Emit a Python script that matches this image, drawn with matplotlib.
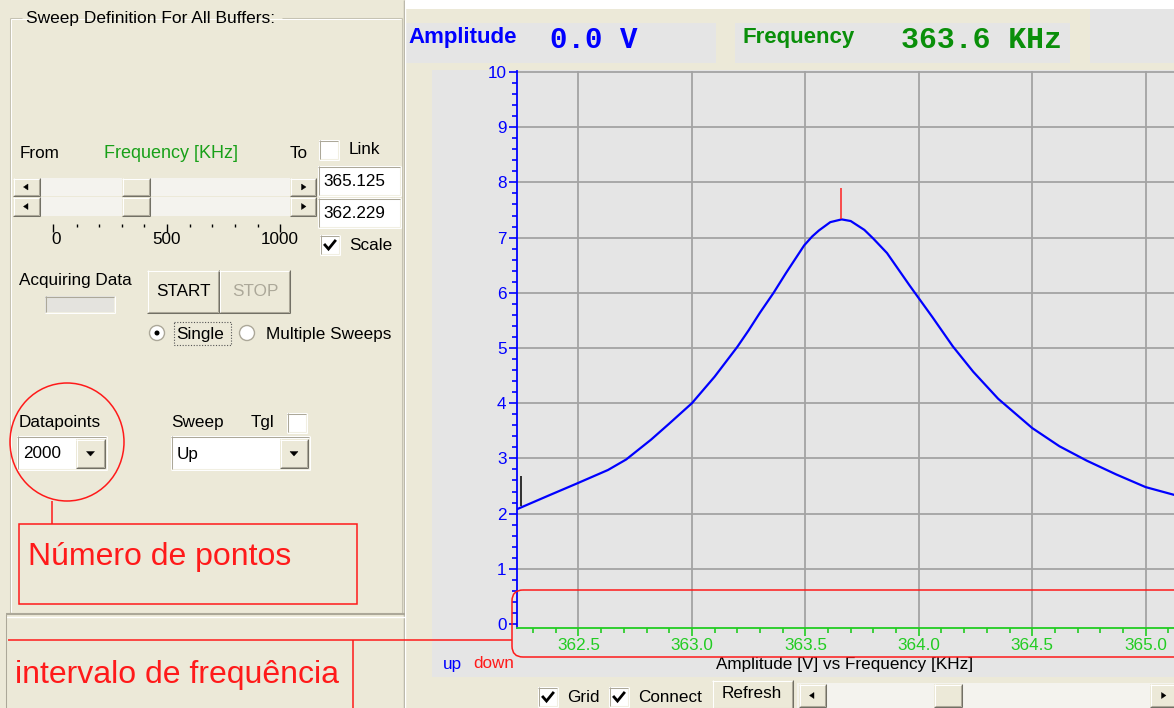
import matplotlib
matplotlib.use("Agg")
import matplotlib.pyplot as plt
from matplotlib.patches import Rectangle, Polygon, Ellipse, Circle, FancyBboxPatch
from matplotlib.ticker import MultipleLocator, FormatStrFormatter

# ---- measured sweep: amplitude [V] vs frequency [KHz] ----
freq_khz = [362.229, 362.37, 362.49, 362.63, 362.71, 362.82, 362.90, 363.00,
            363.10, 363.20, 363.25, 363.30, 363.36, 363.415, 363.495, 363.53,
            363.56, 363.61, 363.66, 363.70, 363.76, 363.80, 363.86, 363.96,
            364.06, 364.15, 364.24, 364.35, 364.50, 364.62, 364.74, 364.87,
            365.00, 365.125]
amplitude_v = [2.08, 2.33, 2.54, 2.79, 2.98, 3.34, 3.63, 4.00,
               4.48, 5.02, 5.32, 5.64, 6.00, 6.36, 6.86, 7.02,
               7.13, 7.28, 7.33, 7.30, 7.14, 6.98, 6.72, 6.13,
               5.56, 5.03, 4.57, 4.08, 3.55, 3.22, 2.96, 2.71,
               2.48, 2.34]

sweep_from = 362.229
sweep_to = 365.125
datapoints = "2000"
peak_marker = (363.655, 7.33, 7.90)   # freq, bottom, top
start_marker = (362.247, 2.14, 2.68)  # freq, bottom, top
amp_readout = "0.0 V"
freq_readout = "363.6 KHz"
x_major = [362.5, 363.0, 363.5, 364.0, 364.5, 365.0]
slider_labels = ["0", "500", "1000"]

W, H = 1174, 708
BEIGE = "#ECE9D8"
PANEL = "#E5E5E5"
GRIDC = "#A3A3A3"
BLUE = "#0000FF"
GREEN_AX = "#22CC22"
GREEN_TXT = "#0A8F0A"
RED = "#FF1A1A"
SANS = "Liberation Sans"
MONO = "Liberation Mono"
FS = 12.3

fig = plt.figure(figsize=(W / 100, H / 100), dpi=100, facecolor=BEIGE)


def px_axes(z):
    a = fig.add_axes([0, 0, 1, 1], zorder=z)
    a.set_xlim(0, W)
    a.set_ylim(H, 0)
    a.axis("off")
    a.patch.set_alpha(0)
    return a


bg = px_axes(0)
fg = px_axes(3)

LW1 = 0.75  # about one pixel


def rect(a, x0, y0, x1, y1, fc, ec="none", lw=0):
    a.add_patch(Rectangle((x0, y0), x1 - x0, y1 - y0, fc=fc, ec=ec, lw=lw))


def hline(a, x0, x1, y, c, lw=LW1, **kw):
    a.plot([x0, x1], [y, y], color=c, lw=lw, solid_capstyle="butt", **kw)


def vline(a, x, y0, y1, c, lw=LW1, **kw):
    a.plot([x, x], [y0, y1], color=c, lw=lw, solid_capstyle="butt", **kw)


def bevel(a, x0, y0, x1, y1, raised=True, fc=None):
    if fc is not None:
        rect(a, x0, y0, x1, y1, fc)
    if raised:
        lt, dk, dk2 = "white", "#716F64", "#ACA899"
    else:
        lt, dk, dk2 = "#ACA899", "white", "#F1EFE2"
    hline(a, x0, x1, y0 + 0.5, lt)
    vline(a, x0 + 0.5, y0, y1, lt)
    hline(a, x0, x1, y1 - 0.5, dk)
    vline(a, x1 - 0.5, y0, y1, dk)
    hline(a, x0 + 1, x1 - 1, y1 - 1.5, dk2)
    vline(a, x1 - 1.5, y0 + 1, y1 - 1, dk2)


def label(a, x, y, s, size=FS, color="black", ha="left", va="center", **kw):
    kw.setdefault("family", SANS)
    a.text(x, y, s, fontsize=size, color=color, ha=ha, va=va, **kw)


def checkbox(a, x0, y0, checked):
    rect(a, x0, y0, x0 + 20, y0 + 20, "white")
    bevel(a, x0, y0, x0 + 20, y0 + 20, raised=False)
    if checked:
        a.plot([x0 + 5, x0 + 8.5, x0 + 15], [y0 + 10, y0 + 14, y0 + 6],
               color="black", lw=2.0, solid_joinstyle="miter")


def arrow_button(a, x0, y0, x1, y1, direction):
    bevel(a, x0, y0, x1, y1, raised=True, fc=BEIGE)
    cx, cy = (x0 + x1) / 2, (y0 + y1) / 2
    s = 3
    if direction == "left":
        pts = [(cx + s / 2, cy - s), (cx + s / 2, cy + s), (cx - s, cy)]
    elif direction == "right":
        pts = [(cx - s / 2, cy - s), (cx - s / 2, cy + s), (cx + s, cy)]
    else:
        pts = [(cx - 4, cy - 2), (cx + 4, cy - 2), (cx, cy + 2.5)]
    a.add_patch(Polygon(pts, closed=True, fc="black", ec="black", lw=0.3))


# ---------------- right-hand display area ----------------
rect(bg, 405, 0, W, 9, "white")
rect(bg, 405, 23, 716, 63, PANEL)
rect(bg, 735, 23, 1070, 63, PANEL)
rect(bg, 1090, 9, W, 63, PANEL)
rect(bg, 432, 70, W, 677, PANEL)

label(bg, 408, 38, "Amplitude", size=16, color=BLUE, weight="bold")
label(bg, 550, 40, amp_readout, size=21, color=BLUE, family=MONO, weight="bold")
label(bg, 743, 38, "Frequency", size=16, color=GREEN_TXT, weight="bold")
label(bg, 901, 40, freq_readout, size=21.5, color=GREEN_TXT, family=MONO, weight="bold")

# divider between control column and display
vline(bg, 403.5, 0, H, "#ACA899", lw=1.0)
vline(bg, 405, 0, H, "white", lw=1.0)

# ---------------- left control column ----------------
frame = "#C5C2B2"
hline(bg, 10, 22, 18, frame)
hline(bg, 282, 402, 18, frame)
vline(bg, 10, 18, 613, frame)
vline(bg, 402, 18, 613, frame)
hline(bg, 11, 401, 19, "white")
vline(bg, 11, 19, 612, "white")
hline(bg, 6, 405, 614, "#ACA899", lw=1.5)
hline(bg, 6, 405, 616.5, "white", lw=1.0)
vline(bg, 6, 614, H, "#ACA899")

label(bg, 26, 19, "Sweep Definition For All Buffers:", size=12.5)
label(bg, 20, 153, "From")
label(bg, 104, 153, "Frequency [KHz]", color="#18A018", size=13)
label(bg, 290, 153, "To")
checkbox(bg, 319, 140, False)
label(bg, 349, 150, "Link")

# dual range slider
for (y0, y1) in [(178, 196), (197, 216)]:
    rect(bg, 40, y0, 290, y1, "#F4F3EE")
    arrow_button(bg, 13, y0, 40, y1, "left")
    arrow_button(bg, 290, y0, 316, y1, "right")
    bevel(bg, 122, y0, 150, y1, raised=True, fc=BEIGE)
for tx in [53, 77, 99, 122, 144, 167, 190, 212, 235, 258, 280]:
    tall = tx in (53, 167, 280)
    vline(bg, tx, 224, 232 if tall else 227, "black", lw=1.0)
for tx, s in zip([56, 167, 280], slider_labels):
    label(bg, tx, 239, s, ha="center")

for (y0, s) in [(166, f"{sweep_to:.3f}"), (198, f"{sweep_from:.3f}")]:
    rect(bg, 318, y0, 401, y0 + 30, "white")
    bevel(bg, 318, y0, 401, y0 + 30, raised=False)
    label(bg, 323, y0 + 15.5, s)
checkbox(bg, 320, 235, True)
label(bg, 349, 246, "Scale")

label(bg, 19, 280, "Acquiring Data")
rect(bg, 45, 296, 115, 313, "#E4E3DE")
bevel(bg, 45, 296, 115, 313, raised=False)

bevel(bg, 147, 270, 219, 313, raised=True, fc=BEIGE)
label(bg, 183, 292, "START", ha="center")
bevel(bg, 219, 270, 290, 313, raised=True, fc=BEIGE)
label(bg, 255, 292, "STOP", ha="center", color="#ACA899")

bg.add_patch(Circle((157, 333), 7.5, fc="white", ec="#ACA899", lw=1.0))
bg.add_patch(Circle((157, 333), 2.5, fc="black", ec="none"))
bg.add_patch(Rectangle((174, 322), 57, 23, fc="none", ec="#555555",
                       lw=0.8, ls=(0, (1, 1.5))))
label(bg, 176, 334, "Single")
bg.add_patch(Circle((247, 333), 7.5, fc="white", ec="#ACA899", lw=1.0))
label(bg, 266, 334, "Multiple Sweeps")

label(bg, 19, 422, "Datapoints")
rect(bg, 17, 436, 107, 470, "white")
bevel(bg, 17, 436, 107, 470, raised=False)
label(bg, 23, 454, datapoints)
arrow_button(bg, 76, 439, 105, 468, "down")

label(bg, 171, 422, "Sweep")
label(bg, 251, 422, "Tgl")
checkbox(bg, 287, 413, False)
rect(bg, 171, 436, 310, 470, "white")
bevel(bg, 171, 436, 310, 470, raised=False)
label(bg, 177, 454, "Up")
arrow_button(bg, 280, 439, 308, 468, "down")

# ---------------- bottom controls of the display ----------------
label(bg, 443, 664, "up", color=BLUE)
label(bg, 473, 664, "down", color=RED)
label(bg, 845, 665, "Amplitude [V] vs Frequency [KHz]", ha="center")

checkbox(bg, 538, 687, True)
label(bg, 567, 697, "Grid")
checkbox(bg, 609, 687, True)
label(bg, 638, 697, "Connect")
bevel(bg, 712, 680, 793, 709, raised=True, fc=BEIGE)
label(bg, 752, 694, "Refresh", ha="center")
rect(bg, 797, 683, W, H, "#F4F3EE")
arrow_button(bg, 799, 684, 826, 707, "left")
bevel(bg, 934, 684, 962, 707, raised=True, fc=BEIGE)
arrow_button(bg, 1150, 684, 1176, 707, "right")

# ---------------- the plot ----------------
ax_l, ax_r, ax_t, ax_b = 517, 1174, 71, 628
ax = fig.add_axes([ax_l / W, (H - ax_b) / H, (ax_r - ax_l) / W, (ax_b - ax_t) / H],
                  zorder=1)
ax.patch.set_alpha(0)
ax.set_xlim(sweep_from, sweep_to)
ax.set_ylim(-4 / 55.2, 10 + 1 / 55.2)

for v in range(1, 11):
    ax.axhline(v, color=GRIDC, lw=1.3, zorder=0.5)
for f in x_major:
    ax.axvline(f, color=GRIDC, lw=1.3, zorder=0.5)

ax.plot(freq_khz, amplitude_v, color=BLUE, lw=1.6, zorder=3,
        solid_joinstyle="round")
ax.vlines(peak_marker[0], peak_marker[1], peak_marker[2], color="#FF2020", lw=1.1, zorder=4)
ax.vlines(start_marker[0], start_marker[1], start_marker[2], color="#202020", lw=1.3, zorder=4)

for side in ("top", "right"):
    ax.spines[side].set_visible(False)
ax.spines["left"].set_color(BLUE)
ax.spines["left"].set_linewidth(1.3)
ax.spines["bottom"].set_color(GREEN_AX)
ax.spines["bottom"].set_linewidth(1.3)

ax.yaxis.set_major_locator(MultipleLocator(1))
ax.yaxis.set_minor_locator(MultipleLocator(0.2))
ax.yaxis.set_major_formatter(FormatStrFormatter("%d"))
ax.xaxis.set_major_locator(MultipleLocator(0.5))
ax.xaxis.set_minor_locator(MultipleLocator(0.1))
ax.xaxis.set_major_formatter(FormatStrFormatter("%.1f"))

ax.tick_params(axis="y", which="major", color=BLUE, labelcolor=BLUE, length=6,
               width=1.2, pad=1.5, labelsize=FS)
ax.tick_params(axis="y", which="minor", color=BLUE, length=3.8, width=1.2)
ax.tick_params(axis="x", which="major", color=GREEN_AX, labelcolor=GREEN_AX, length=6,
               width=1.2, pad=1.5, labelsize=FS)
ax.tick_params(axis="x", which="minor", color=GREEN_AX, length=3.8, width=1.2)
for t in ax.get_xticklabels() + ax.get_yticklabels():
    t.set_family(SANS)

# ---------------- red call-outs ----------------
ALW = 1.1
fg.add_patch(Ellipse((67, 442), 114, 118, fc="none", ec=RED, lw=ALW))
vline(fg, 52, 501, 524, RED, lw=ALW)
fg.add_patch(Rectangle((19, 524), 338, 80, fc="none", ec=RED, lw=ALW))
label(fg, 28, 565, "Número de pontos", size=23, color=RED, va="baseline")

hline(fg, 8, 353, 640, RED, lw=ALW)
vline(fg, 353, 640, H + 2, RED, lw=ALW)
hline(fg, 353, 512, 640, RED, lw=ALW)
fg.add_patch(FancyBboxPatch((512, 590), 700, 67,
                            boxstyle="round,pad=0,rounding_size=11",
                            fc="none", ec=RED, lw=ALW))
label(fg, 15, 683, "intervalo de frequência", size=23, color=RED, va="baseline")

fig.savefig("out.png", dpi=100, facecolor=BEIGE)
